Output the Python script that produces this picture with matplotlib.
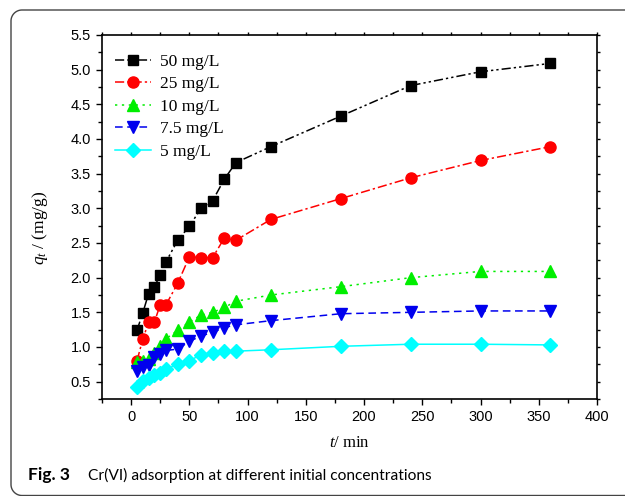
import numpy as np
import matplotlib
matplotlib.use("Agg")
import matplotlib.pyplot as plt
from matplotlib.lines import Line2D
from matplotlib.transforms import IdentityTransform
from matplotlib.ticker import MultipleLocator, FormatStrFormatter

plt.rcParams["mathtext.fontset"] = "custom"
plt.rcParams["mathtext.it"] = "Liberation Serif:italic"
plt.rcParams["mathtext.rm"] = "Liberation Serif"

# данные
t = [5, 10, 15, 20, 25, 30, 40, 50, 60, 70, 80, 90, 120, 180, 240, 300, 360]
q50 = [1.24, 1.49, 1.77, 1.87, 2.04, 2.23, 2.54, 2.74, 3.00, 3.11, 3.42, 3.66,
       3.89, 4.33, 4.77, 4.97, 5.09]
q25 = [0.80, 1.11, 1.36, 1.36, 1.61, 1.61, 1.92, 2.30, 2.29, 2.29, 2.57, 2.54,
       2.84, 3.14, 3.44, 3.69, 3.89]
q10 = [0.78, 0.80, 0.83, 0.91, 1.01, 1.12, 1.24, 1.36, 1.46, 1.50, 1.57, 1.66,
       1.75, 1.87, 2.00, 2.09, 2.09]
q75 = [0.66, 0.71, 0.74, 0.85, 0.90, 0.95, 0.97, 1.08, 1.16, 1.21, 1.28, 1.32,
       1.38, 1.48, 1.50, 1.52, 1.52]
q5 = [0.43, 0.51, 0.56, 0.60, 0.62, 0.68, 0.75, 0.80, 0.89, 0.92, 0.94, 0.94,
      0.96, 1.01, 1.04, 1.04, 1.03]

labels = ["50 mg/L", "25 mg/L", "10 mg/L", "7.5 mg/L", "5 mg/L"]
colors = ["black", "red", "#00ee00", "#0000ee", "cyan"]
markers = ["s", "o", "^", "v", "D"]
styles = [(0, (6, 2, 1.5, 2, 1.5, 2)), (0, (6, 2, 1.5, 2)), (0, (1.5, 3)),
          (0, (5, 3)), "-"]
sizes = [7, 8, 8, 8, 7]

fig = plt.figure(figsize=(6.25, 4.96), dpi=100)

# рамка вокруг рисунка: открытая справа, скругленные углы слева (пиксели)
r = 11
a1 = np.linspace(np.pi / 2, np.pi, 20)
a2 = np.linspace(np.pi, 1.5 * np.pi, 20)
fx = np.concatenate([[640], 11 + r + r * np.cos(a1), 11 + r + r * np.cos(a2), [640]])
fy = np.concatenate([[486], 486 - r + r * np.sin(a1), 0.5 + r + r * np.sin(a2), [0.5]])
fig.add_artist(Line2D(fx, fy, transform=IdentityTransform(), color="#444444",
                      linewidth=1.0))

ax = fig.add_axes([102 / 625, 97 / 496, 495 / 625, 364 / 496])

series = [q50, q25, q10, q75, q5]
for y, lab, c, m, ls, ms in zip(series, labels, colors, markers, styles, sizes):
    ax.plot(t, y, color=c, marker=m, linestyle=ls, markersize=ms,
            linewidth=1.1, label=lab, markeredgecolor=c)

ax.set_xlim(-25, 400)
ax.set_ylim(0.25, 5.5)
ax.xaxis.set_major_locator(MultipleLocator(50))
ax.xaxis.set_minor_locator(MultipleLocator(25))
ax.yaxis.set_major_locator(MultipleLocator(0.5))
ax.yaxis.set_minor_locator(MultipleLocator(0.25))
ax.yaxis.set_major_formatter(FormatStrFormatter("%.1f"))

for s in ax.spines.values():
    s.set_linewidth(1.2)

ax.tick_params(which="both", direction="out", labelsize=10.5,
               labelfontfamily="Liberation Sans", width=1.0)
ax.tick_params(which="major", length=4.5)
ax.tick_params(which="minor", length=3)
ax.tick_params(which="both", top=True, right=True)
for tk in ax.xaxis.get_major_ticks() + ax.xaxis.get_minor_ticks():
    tk.tick2line.set_markersize(2)
for tk in ax.yaxis.get_major_ticks() + ax.yaxis.get_minor_ticks():
    tk.tick2line.set_markersize(2)

ax.set_xlabel(r"$t$/ min", fontsize=12, family="Liberation Serif", labelpad=8)
ax.set_ylabel(r"$q_t$ / (mg/g)", fontsize=12.5, family="Liberation Serif")
ax.yaxis.set_label_coords(-0.105, 0.47)

ax.legend(loc="upper left", bbox_to_anchor=(0.026, 0.948), frameon=False,
          prop={"family": "Liberation Serif", "size": 12.5}, handlelength=2.1,
          handletextpad=0.5, labelspacing=0.36, borderaxespad=0, borderpad=0)

# подпись рисунка
fig.text(28 / 625, 1 - 475 / 496, "Fig. 3", fontsize=12.5, fontweight="bold",
         family="Lato", va="center", ha="left")
fig.text(88 / 625, 1 - 475 / 496, "Cr(VI) adsorption at different initial concentrations",
         fontsize=11.2, family="Lato", va="center", ha="left")

plt.savefig("out.png", dpi=100)
